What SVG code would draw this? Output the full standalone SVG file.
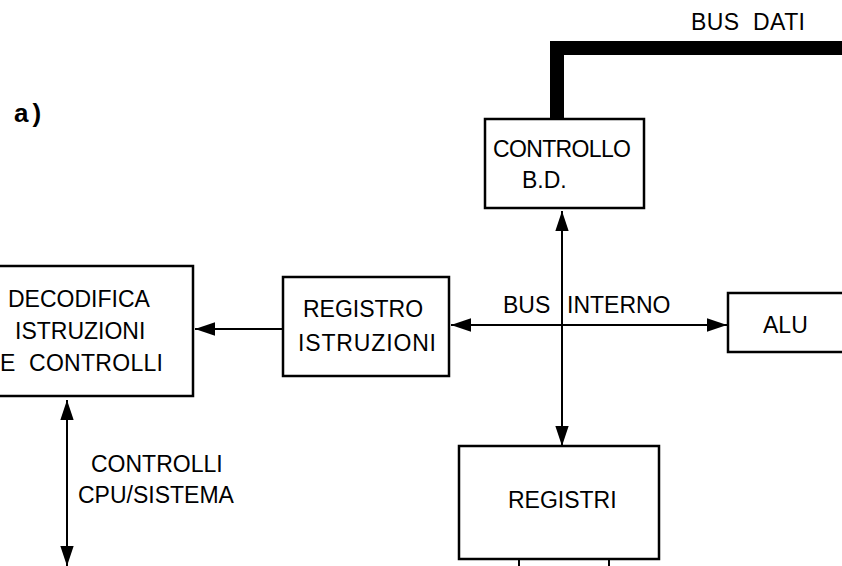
<svg xmlns="http://www.w3.org/2000/svg" width="842" height="566" viewBox="0 0 842 566">
  <style>
    .box { fill: #fff; stroke: #000; stroke-width: 2.5; }
    .lbl { font-family: "Liberation Sans", Arial, sans-serif; font-size: 23px; fill: #000; white-space: pre; }
    .wire { fill: none; stroke: #000; stroke-width: 2; }
    .bus { fill: none; stroke: #000; stroke-width: 14; stroke-linejoin: miter; }
  </style>
  <defs>
    <marker id="arrow" markerUnits="userSpaceOnUse" markerWidth="20" markerHeight="14" viewBox="0 0 18 12" refX="18" refY="6" orient="auto-start-reverse">
      <polygon points="0,0 18,6 0,12" fill="#000"/>
    </marker>
  </defs>
  <rect width="842" height="566" fill="#fff"/>

  <text class="lbl" x="14" y="122" style="font-weight:bold;font-size:26px;letter-spacing:4px">a)</text>
  <text class="lbl" x="691" y="30" textLength="114">BUS  DATI</text>

  <g id="connectors">
    <path class="bus" d="M557,119 V48 H850"/>
    <line class="wire" x1="283" y1="329" x2="195" y2="329" marker-end="url(#arrow)"/>
    <line class="wire" x1="451" y1="325" x2="727" y2="325" marker-start="url(#arrow)" marker-end="url(#arrow)"/>
    <line class="wire" x1="562" y1="211" x2="562" y2="446" marker-start="url(#arrow)" marker-end="url(#arrow)"/>
    <line class="wire" x1="67" y1="400" x2="67" y2="566" marker-start="url(#arrow)" marker-end="url(#arrow)"/>
    <line class="wire" x1="519" y1="559" x2="519" y2="570"/>
    <line class="wire" x1="609" y1="559" x2="609" y2="570"/>
    <text class="lbl" x="503" y="313">BUS</text>
    <text class="lbl" x="567" y="313">INTERNO</text>
    <text class="lbl" x="91" y="472">CONTROLLI</text>
    <text class="lbl" x="78" y="503">CPU/SISTEMA</text>
  </g>

  <g id="decodifica">
    <rect class="box" x="-5" y="266" width="198" height="130"/>
    <text class="lbl" x="8" y="307">DECODIFICA</text>
    <text class="lbl" x="15" y="339">ISTRUZIONI</text>
    <text class="lbl" x="0" y="371" textLength="163">E  CONTROLLI</text>
  </g>

  <g id="registro">
    <rect class="box" x="283" y="277" width="166" height="99"/>
    <text class="lbl" x="303" y="317">REGISTRO</text>
    <text class="lbl" x="298" y="351" textLength="138">ISTRUZIONI</text>
  </g>

  <g id="controllo">
    <rect class="box" x="485" y="119" width="159" height="89"/>
    <text class="lbl" x="493" y="157" textLength="138">CONTROLLO</text>
    <text class="lbl" x="522" y="188">B.D.</text>
  </g>

  <g id="alu">
    <rect class="box" x="728" y="293" width="120" height="59"/>
    <text class="lbl" x="763" y="333">ALU</text>
  </g>

  <g id="registri">
    <rect class="box" x="459" y="446" width="200" height="113"/>
    <text class="lbl" x="508" y="508">REGISTRI</text>
  </g>
</svg>
